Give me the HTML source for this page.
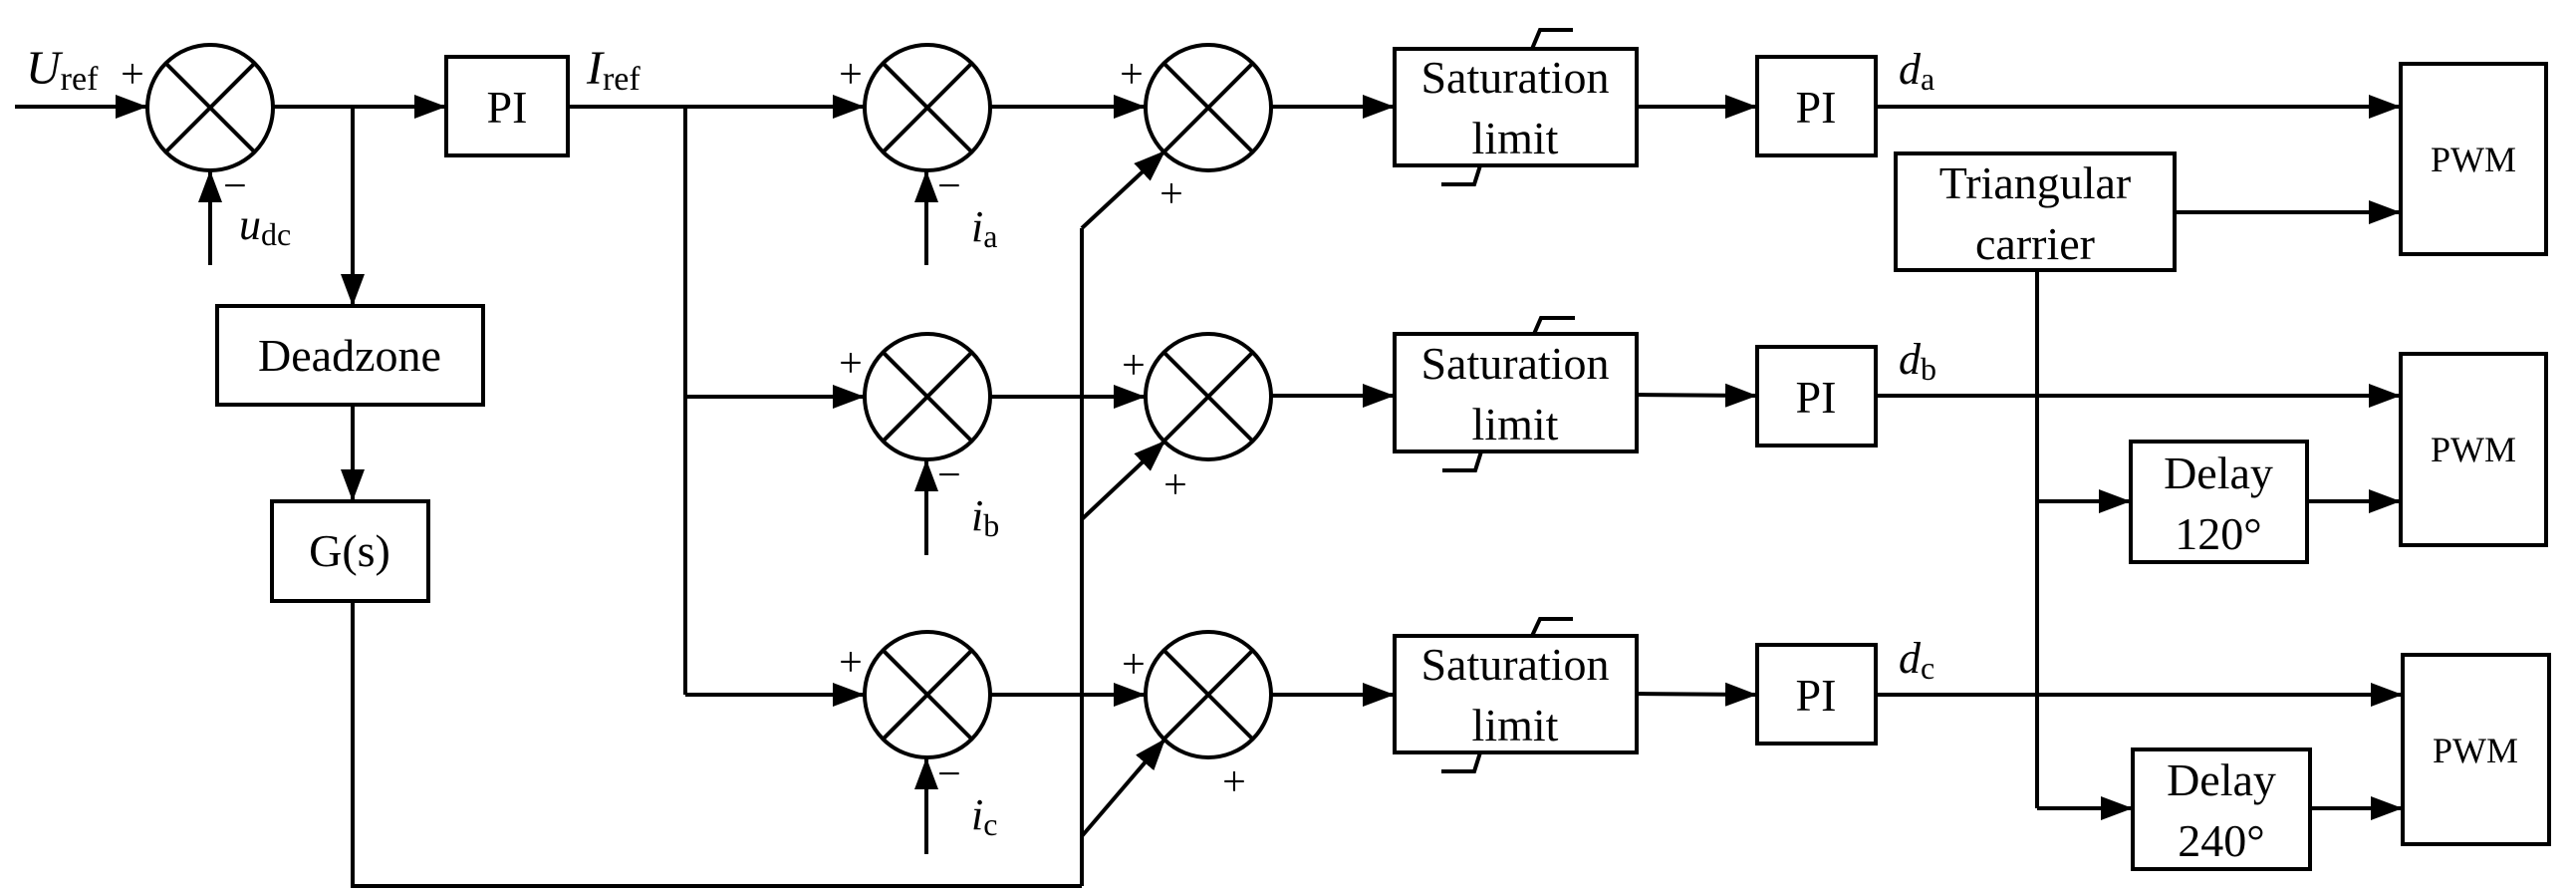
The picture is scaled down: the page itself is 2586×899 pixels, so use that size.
<!DOCTYPE html>
<html><head><meta charset="utf-8"><style>
html,body{margin:0;padding:0;background:#fff}
svg{display:block}
</style></head><body>
<svg width="2586" height="899" viewBox="0 0 2586 899" xmlns="http://www.w3.org/2000/svg" font-family="'Liberation Serif', 'Times New Roman', serif">
<defs>
<marker id="ar" markerUnits="userSpaceOnUse" markerWidth="34" markerHeight="24" refX="32" refY="12" orient="auto">
<path d="M0,0 L32,12 L0,24 Z" fill="#000"/>
</marker>
</defs>
<g stroke="#000" stroke-width="4" fill="none">
<circle cx="211" cy="108" r="63"/>
<line x1="167" y1="64" x2="255" y2="152"/><line x1="255" y1="64" x2="167" y2="152"/>
<circle cx="931" cy="108" r="63"/><line x1="887" y1="64" x2="975" y2="152"/><line x1="975" y1="64" x2="887" y2="152"/>
<circle cx="1213" cy="108" r="63"/><line x1="1169" y1="64" x2="1257" y2="152"/><line x1="1257" y1="64" x2="1169" y2="152"/>
<circle cx="931" cy="398" r="63"/><line x1="887" y1="354" x2="975" y2="442"/><line x1="975" y1="354" x2="887" y2="442"/>
<circle cx="1213" cy="398" r="63"/><line x1="1169" y1="354" x2="1257" y2="442"/><line x1="1257" y1="354" x2="1169" y2="442"/>
<circle cx="931" cy="697" r="63"/><line x1="887" y1="653" x2="975" y2="741"/><line x1="975" y1="653" x2="887" y2="741"/>
<circle cx="1213" cy="697" r="63"/><line x1="1169" y1="653" x2="1257" y2="741"/><line x1="1257" y1="653" x2="1169" y2="741"/>

<rect x="448" y="57" width="122" height="99"/>
<rect x="218" y="307" width="267" height="99"/>
<rect x="273" y="503" width="157" height="100"/>
<rect x="1400" y="49" width="243" height="117"/>
<rect x="1400" y="335" width="243" height="118"/>
<rect x="1400" y="638" width="243" height="117"/>
<rect x="1764" y="57" width="119" height="99"/>
<rect x="1764" y="348" width="119" height="99"/>
<rect x="1764" y="647" width="119" height="99"/>
<rect x="1903" y="154" width="280" height="117"/>
<rect x="2139" y="443" width="177" height="121"/>
<rect x="2141" y="752" width="178" height="120"/>
<rect x="2410" y="64" width="146" height="191"/>
<rect x="2410" y="355" width="146" height="192"/>
<rect x="2412" y="657" width="147" height="190"/>

<polyline points="1538,49 1546,30 1579,30"/><polyline points="1486,166 1480,185 1447,185"/>
<polyline points="1540,335 1547,319 1581,319"/><polyline points="1487,453 1481,472 1448,472"/>
<polyline points="1538,638 1546,621 1579,621"/><polyline points="1486,755 1480,774 1447,774"/>

<line x1="15" y1="107" x2="148" y2="107" marker-end="url(#ar)"/>
<line x1="274" y1="107" x2="448" y2="107" marker-end="url(#ar)"/>
<line x1="354" y1="107" x2="354" y2="307" marker-end="url(#ar)"/>
<line x1="354" y1="406" x2="354" y2="503" marker-end="url(#ar)"/>
<polyline points="354,603 354,889 1086,889"/>
<line x1="211" y1="266" x2="211" y2="171" marker-end="url(#ar)"/>
<line x1="570" y1="107" x2="868" y2="107" marker-end="url(#ar)"/>
<line x1="688" y1="107" x2="688" y2="697"/>
<line x1="688" y1="398" x2="868" y2="398" marker-end="url(#ar)"/>
<line x1="688" y1="697" x2="868" y2="697" marker-end="url(#ar)"/>
<line x1="930" y1="266" x2="930" y2="171" marker-end="url(#ar)"/>
<line x1="930" y1="557" x2="930" y2="461" marker-end="url(#ar)"/>
<line x1="930" y1="857" x2="930" y2="760" marker-end="url(#ar)"/>
<line x1="994" y1="107" x2="1150" y2="107" marker-end="url(#ar)"/>
<line x1="994" y1="398" x2="1150" y2="398" marker-end="url(#ar)"/>
<line x1="994" y1="697" x2="1150" y2="697" marker-end="url(#ar)"/>
<line x1="1086" y1="229" x2="1086" y2="889"/>
<line x1="1086" y1="229" x2="1170" y2="151" marker-end="url(#ar)"/>
<line x1="1086" y1="521" x2="1170" y2="442" marker-end="url(#ar)"/>
<line x1="1086" y1="839" x2="1170" y2="741" marker-end="url(#ar)"/>
<line x1="1276" y1="107" x2="1400" y2="107" marker-end="url(#ar)"/>
<line x1="1276" y1="397" x2="1400" y2="397" marker-end="url(#ar)"/>
<line x1="1276" y1="697" x2="1400" y2="697" marker-end="url(#ar)"/>
<line x1="1643" y1="107" x2="1764" y2="107" marker-end="url(#ar)"/>
<line x1="1643" y1="396" x2="1764" y2="397" marker-end="url(#ar)"/>
<line x1="1643" y1="696" x2="1764" y2="697" marker-end="url(#ar)"/>
<line x1="1883" y1="107" x2="2410" y2="107" marker-end="url(#ar)"/>
<line x1="1883" y1="397" x2="2410" y2="397" marker-end="url(#ar)"/>
<line x1="1883" y1="697" x2="2412" y2="697" marker-end="url(#ar)"/>
<line x1="2183" y1="213" x2="2410" y2="213" marker-end="url(#ar)"/>
<line x1="2045" y1="271" x2="2045" y2="811"/>
<line x1="2045" y1="503" x2="2139" y2="503" marker-end="url(#ar)"/>
<line x1="2045" y1="811" x2="2141" y2="811" marker-end="url(#ar)"/>
<line x1="2316" y1="503" x2="2410" y2="503" marker-end="url(#ar)"/>
<line x1="2319" y1="811" x2="2412" y2="811" marker-end="url(#ar)"/>
</g>

<g font-size="46" text-anchor="middle" fill="#000">
<text x="509" y="123">PI</text>
<text x="351" y="372">Deadzone</text>
<text x="351" y="568">G(s)</text>
<text x="1521" y="93">Saturation</text><text x="1521" y="154">limit</text>
<text x="1521" y="380">Saturation</text><text x="1521" y="441">limit</text>
<text x="1521" y="682">Saturation</text><text x="1521" y="743">limit</text>
<text x="1823" y="123">PI</text>
<text x="1823" y="414">PI</text>
<text x="1823" y="713">PI</text>
<text x="2043" y="199">Triangular</text><text x="2043" y="260">carrier</text>
<text x="2227" y="490">Delay</text><text x="2227" y="551">120°</text>
<text x="2230" y="798">Delay</text><text x="2230" y="859">240°</text>
</g>
<g font-size="36" text-anchor="middle" fill="#000">
<text x="2483" y="172">PWM</text>
<text x="2483" y="463">PWM</text>
<text x="2485" y="765">PWM</text>
</g>

<g font-size="44" fill="#000">
<text x="26" y="84"><tspan font-style="italic" font-size="48">U</tspan><tspan font-size="34" dy="6">ref</tspan></text>
<text x="589" y="84"><tspan font-style="italic" font-size="48">I</tspan><tspan font-size="34" dy="6">ref</tspan></text>
<text x="240" y="240"><tspan font-style="italic">u</tspan><tspan font-size="32" dy="6">dc</tspan></text>
<text x="975" y="242"><tspan font-style="italic">i</tspan><tspan font-size="32" dy="6">a</tspan></text>
<text x="975" y="532"><tspan font-style="italic">i</tspan><tspan font-size="32" dy="6">b</tspan></text>
<text x="975" y="832"><tspan font-style="italic">i</tspan><tspan font-size="32" dy="6">c</tspan></text>
<text x="1906" y="84"><tspan font-style="italic">d</tspan><tspan font-size="32" dy="6">a</tspan></text>
<text x="1906" y="375"><tspan font-style="italic">d</tspan><tspan font-size="32" dy="6">b</tspan></text>
<text x="1906" y="675"><tspan font-style="italic">d</tspan><tspan font-size="32" dy="6">c</tspan></text>
</g>
<g font-size="42" text-anchor="middle" fill="#000">
<text x="133" y="88">+</text>
<text x="236" y="200">−</text>
<text x="854" y="88">+</text><text x="953" y="200">−</text>
<text x="1136" y="88">+</text><text x="1176" y="208">+</text>
<text x="854" y="378">+</text><text x="953" y="490">−</text>
<text x="1138" y="380">+</text><text x="1180" y="500">+</text>
<text x="854" y="678">+</text><text x="953" y="790">−</text>
<text x="1138" y="680">+</text><text x="1239" y="798">+</text>
</g>
</svg>
</body></html>
